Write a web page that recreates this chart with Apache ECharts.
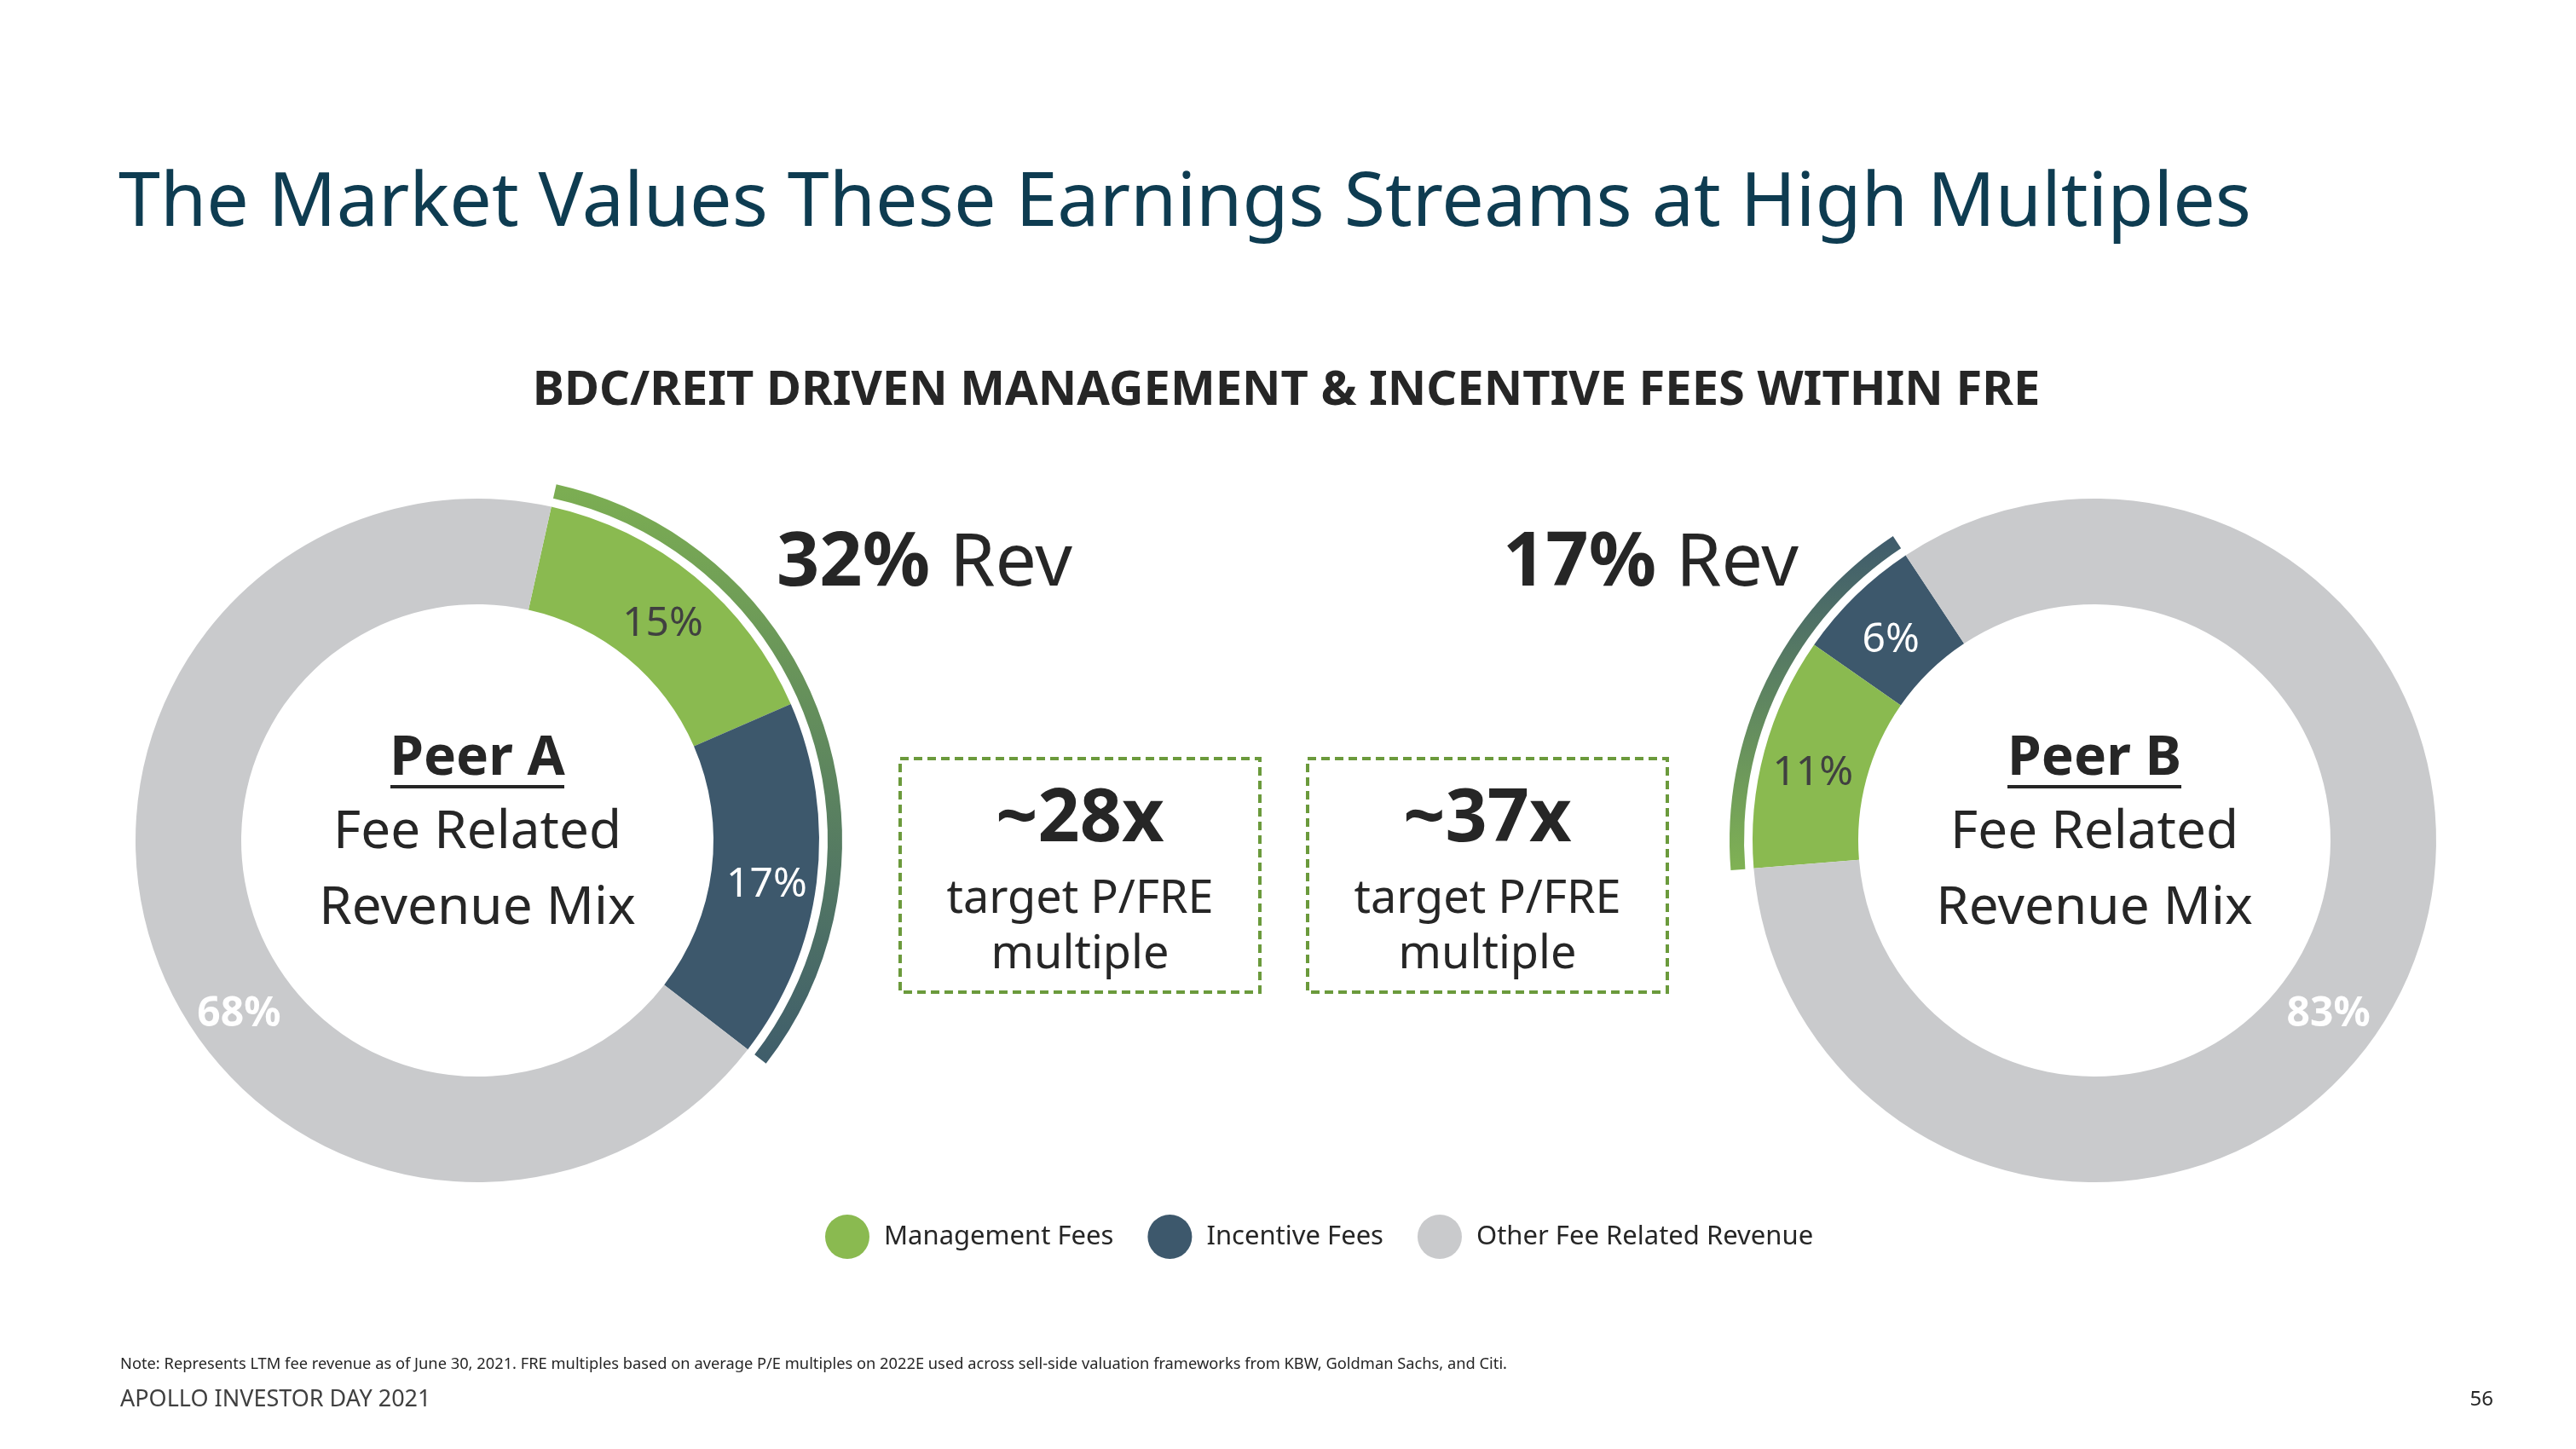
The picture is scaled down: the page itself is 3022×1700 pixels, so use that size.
<!DOCTYPE html>
<html>
<head>
<meta charset="utf-8">
<script src="https://cdn.jsdelivr.net/npm/echarts@6/dist/echarts.min.js"></script>
<style>
  html, body { margin: 0; padding: 0; background: #fff; }
  #main { width: 3022px; height: 1700px; }
</style>
</head>
<body>
<div id="main"></div>
<script>
// fee related revenue mix, in percent
const feeNames = ["Management Fees", "Incentive Fees", "Other Fee Related Revenue"];
const peerA = [15, 17, 68];
const peerB = [11, 6, 83];
const multiples = ["~28x", "~37x"];

const FONT = "Noto Sans";
const GREEN = "#8aba50";
const BLUE = "#3d586c";
const GREY = "#c9cacc";
const DARK = "#262626";

const chart = echarts.init(document.getElementById("main"));

// label colour / weight per slice (mgmt, incentive, other)
const labelStyle = [
  { color: "#404040", fontWeight: "normal" },
  { color: "#ffffff", fontWeight: "normal" },
  { color: "#ffffff", fontWeight: "bold" }
];
const sliceColor = [GREEN, BLUE, GREY];

function slices(vals, order) {
  return order.map(i => ({
    name: feeNames[i],
    value: vals[i],
    itemStyle: { color: sliceColor[i] },
    label: labelStyle[i]
  }));
}

function donut(center, vals, order, startAngle, clockwise, otherShift) {
  return {
    type: "pie",
    center: center,
    radius: [277, 401],
    startAngle: startAngle,
    clockwise: clockwise,
    avoidLabelOverlap: false,
    silent: true,
    label: {
      show: true,
      position: "inside",
      formatter: "{c}%",
      fontFamily: FONT,
      fontSize: 48
    },
    labelLine: { show: false },
    labelLayout: p => (p.dataIndex === 2 ? { dx: otherShift[0], dy: otherShift[1] } : { dy: 10 }),
    data: slices(vals, order)
  };
}

// outer bracket arc covering mgmt + incentive share
function bracket(center, vals, startAngle, clockwise, stops) {
  return {
    type: "pie",
    center: center,
    radius: [411, 428],
    startAngle: startAngle,
    clockwise: clockwise,
    silent: true,
    label: { show: false },
    labelLine: { show: false },
    data: [
      {
        name: "bracket",
        value: vals[0] + vals[1],
        itemStyle: {
          color: new echarts.graphic.LinearGradient(0, 0, 0, 1, [
            { offset: 0, color: stops[0] },
            { offset: 1, color: stops[1] }
          ])
        }
      },
      { name: "rest", value: vals[2], itemStyle: { color: "rgba(0,0,0,0)" } }
    ]
  };
}

function txt(x, y, text, size, opts) {
  return {
    type: "text",
    x: x,
    y: y,
    silent: true,
    style: Object.assign({
      text: text,
      fontFamily: FONT,
      fontSize: size,
      fill: DARK,
      align: "center",
      verticalAlign: "middle"
    }, opts || {})
  };
}

function peerLabel(cx, name) {
  return [
    txt(cx, 891, name, 64, { fontWeight: "bold" }),
    { type: "rect", silent: true, shape: { x: cx - 102, y: 921, width: 204, height: 4 }, style: { fill: DARK } },
    txt(cx, 977, "Fee Related", 62),
    txt(cx, 1066, "Revenue Mix", 62)
  ];
}

function multBox(x, label) {
  const cx = x + 211;
  return [
    {
      type: "rect", silent: true,
      shape: { x: x, y: 890, width: 422, height: 274 },
      style: { fill: "none", stroke: "#6b9a3c", lineWidth: 4, lineDash: [10, 6] }
    },
    txt(cx, 962, label, 86, { fontWeight: "bold" }),
    txt(cx, 1056, "target P/FRE", 54),
    txt(cx, 1121, "multiple", 54)
  ];
}

const revRich = {
  b: { fontFamily: FONT, fontSize: 88, fontWeight: "bold", fill: DARK },
  n: { fontFamily: FONT, fontSize: 86, fill: DARK }
};

const option = {
  animation: false,
  backgroundColor: "#ffffff",
  legend: {
    data: feeNames,
    left: 968,
    top: 1425,
    icon: "circle",
    itemWidth: 52,
    itemHeight: 52,
    itemGap: 40,
    padding: 0,
    selectedMode: false,
    textStyle: { fontFamily: FONT, fontSize: 31, color: DARK, padding: [0, 0, 0, 12] }
  },
  series: [
    donut([560, 986], peerA, [0, 1, 2], 77.5, true, [42, 88]),
    donut([2457, 986], peerB, [1, 0, 2], 123.5, false, [-33, 55]),
    bracket([560, 986], peerA, 77.5, true, ["#7cae52", "#3f5d6b"]),
    bracket([2457, 986], [peerB[1], peerB[0], peerB[2]], 123.5, false, ["#3f5b6c", "#80b254"])
  ],
  graphic: [
    txt(139, 240, "The Market Values These Earnings Streams at High Multiples", 88, { align: "left", fill: "#0e3c51" }),
    txt(1509, 459, "BDC/REIT DRIVEN MANAGEMENT & INCENTIVE FEES WITHIN FRE", 56, { fontWeight: "bold" }),
    {
      type: "text", x: 911, y: 662, silent: true,
      style: { text: "{b|" + (peerA[0] + peerA[1]) + "% }{n|Rev}", rich: revRich, verticalAlign: "middle" }
    },
    {
      type: "text", x: 1763, y: 662, silent: true,
      style: { text: "{b|" + (peerB[0] + peerB[1]) + "% }{n|Rev}", rich: revRich, verticalAlign: "middle" }
    },
    ...peerLabel(560, "Peer A"),
    ...peerLabel(2457, "Peer B"),
    ...multBox(1056, multiples[0]),
    ...multBox(1534, multiples[1]),
    txt(141, 1601, "Note: Represents LTM fee revenue as of June 30, 2021. FRE multiples based on average P/E multiples on 2022E used across sell-side valuation frameworks from KBW, Goldman Sachs, and Citi.", 18.3, { align: "left" }),
    txt(141, 1642, "APOLLO INVESTOR DAY 2021", 27, { align: "left", fill: "#404040" }),
    txt(2925, 1642, "56", 24, { align: "right" })
  ]
};

chart.setOption(option);
</script>
</body>
</html>
